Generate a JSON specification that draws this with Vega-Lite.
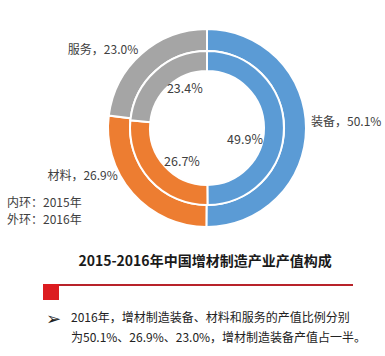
{
  "$schema": "https://vega.github.io/schema/vega-lite/v6.json",
  "width": 200,
  "height": 200,
  "autosize": {"type": "none"},
  "padding": {"left": 107, "top": 28, "right": 78, "bottom": 128},
  "background": "white",
  "config": {"view": {"stroke": null}, "font": "Noto Sans CJK SC"},
  "datasets": {
    "share": [
      {"year": "2016", "category": "装备", "k": 1, "value": 50.1},
      {"year": "2016", "category": "材料", "k": 2, "value": 26.9},
      {"year": "2016", "category": "服务", "k": 3, "value": 23.0},
      {"year": "2015", "category": "装备", "k": 1, "value": 49.9},
      {"year": "2015", "category": "材料", "k": 2, "value": 26.7},
      {"year": "2015", "category": "服务", "k": 3, "value": 23.4}
    ]
  },
  "layer": [
    {
      "data": {"name": "share"},
      "transform": [{"filter": "datum.year == '2016'"}],
      "mark": {"type": "arc", "radius": 99, "radius2": 77, "stroke": "white", "strokeWidth": 2},
      "encoding": {
        "theta": {"field": "value", "type": "quantitative", "stack": true, "scale": {"domain": [0, 100]}},
        "order": {"field": "k", "type": "quantitative"},
        "color": {"field": "category", "type": "nominal", "scale": {"domain": ["装备", "材料", "服务"], "range": ["#5B9BD5", "#ED7D31", "#A5A5A5"]}, "legend": null}
      }
    },
    {
      "data": {"name": "share"},
      "transform": [{"filter": "datum.year == '2015'"}],
      "mark": {"type": "arc", "radius": 77, "radius2": 57, "stroke": "white", "strokeWidth": 2},
      "encoding": {
        "theta": {"field": "value", "type": "quantitative", "stack": true, "scale": {"domain": [0, 100]}},
        "order": {"field": "k", "type": "quantitative"},
        "color": {"field": "category", "type": "nominal", "scale": {"domain": ["装备", "材料", "服务"], "range": ["#5B9BD5", "#ED7D31", "#A5A5A5"]}, "legend": null}
      }
    },
    {
      "data": {"name": "share"},
      "transform": [
        {"filter": "datum.year == '2016'"},
        {"calculate": "datum.category + '，' + format(datum.value, '.1f') + '%'", "as": "label"}
      ],
      "mark": {
        "type": "text", "radius": 104, "fontSize": 12, "fill": "#404040", "baseline": "middle",
        "align": {"expr": "datum.category == '装备' ? 'left' : 'right'"},
        "dx": {"expr": "datum.category == '材料' ? -11 : 0"},
        "dy": {"expr": "datum.category == '材料' ? -21 : (datum.category == '装备' ? -6 : 0)"}
      },
      "encoding": {
        "theta": {"field": "value", "type": "quantitative", "stack": true, "scale": {"domain": [0, 100]}},
        "order": {"field": "k", "type": "quantitative"},
        "text": {"field": "label"}
      }
    },
    {
      "data": {"name": "share"},
      "transform": [
        {"filter": "datum.year == '2015'"},
        {"calculate": "format(datum.value, '.1f') + '%'", "as": "label"}
      ],
      "mark": {
        "type": "text", "radius": 42, "fontSize": 12.5, "fill": "#404040", "baseline": "middle", "align": "center",
        "dx": {"expr": "datum.category == '装备' ? -4 : 6"},
        "dy": {"expr": "datum.category == '装备' ? 12 : (datum.category == '服务' ? -8 : 6)"}
      },
      "encoding": {
        "theta": {"field": "value", "type": "quantitative", "stack": true, "scale": {"domain": [0, 100]}},
        "order": {"field": "k", "type": "quantitative"},
        "text": {"field": "label"}
      }
    },
    {
      "data": {"values": [{"t": "内环：2015年\n外环：2016年"}]},
      "mark": {"type": "text", "x": -100, "y": 170, "align": "left", "baseline": "top", "fontSize": 12, "lineHeight": 17, "lineBreak": "\n", "fill": "#404040"},
      "encoding": {"text": {"field": "t"}}
    },
    {
      "data": {"values": [{"t": "2015-2016年中国增材制造产业产值构成"}]},
      "mark": {"type": "text", "x": 98, "y": 234, "align": "center", "baseline": "middle", "fontSize": 14, "fontWeight": "bold", "fill": "#1a1a1a"},
      "encoding": {"text": {"field": "t"}}
    },
    {
      "data": {"values": [{}]},
      "mark": {"type": "rect", "x": -64, "x2": 246, "y": 256, "y2": 258, "fill": "#B8232A"},
      "encoding": {}
    },
    {
      "data": {"values": [{}]},
      "mark": {"type": "rect", "x": -64, "x2": -48, "y": 256, "y2": 272, "fill": "#DC1C20"},
      "encoding": {}
    },
    {
      "data": {"values": [{"t": "➢"}]},
      "mark": {"type": "text", "x": -54, "y": 292, "align": "center", "baseline": "middle", "fontSize": 18, "fill": "#222222"},
      "encoding": {"text": {"field": "t"}}
    },
    {
      "data": {"values": [{"t": "2016年，增材制造装备、材料和服务的产值比例分别\n为50.1%、26.9%、23.0%，增材制造装备产值占一半。"}]},
      "mark": {"type": "text", "x": -36, "y": 285, "align": "left", "baseline": "top", "fontSize": 12, "lineHeight": 20, "lineBreak": "\n", "fill": "#222222"},
      "encoding": {"text": {"field": "t"}}
    }
  ]
}
